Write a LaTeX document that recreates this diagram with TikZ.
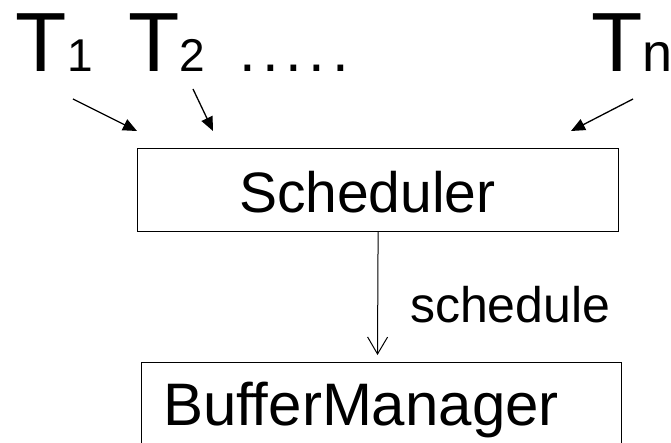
\documentclass[tikz,border=0pt]{standalone}
\usepackage{fontspec}
\setmainfont{Liberation Sans}
\usetikzlibrary{arrows.meta}
\begin{document}
\begin{tikzpicture}[x=1pt,y=-1pt,
  lbl/.style={anchor=base west, inner sep=0pt, outer sep=0pt},
  boxnode/.style={draw, line width=1.2pt, inner sep=0pt, anchor=north west},
  inarrow/.style={line width=1.3pt, -{Triangle[length=14pt,width=12pt]}},
  flowarrow/.style={line width=1pt, -{Straight Barb[length=17pt,width=20pt]}}
]
\useasboundingbox (0,0) rectangle (671,443);
% boxes
\node[boxnode, minimum width=481pt, minimum height=83pt] (schedbox) at (137,148) {};
\node[boxnode, minimum width=480pt, minimum height=110pt] (bufbox) at (141,362) {};
% box texts
\node[lbl, font=\fontsize{57}{57}\selectfont] (schedtxt) at (239,213) {Scheduler};
\node[lbl, font=\fontsize{60}{60}\selectfont] (buftxt) at (163,425) {BufferManager};
\node[lbl, font=\fontsize{50}{50}\selectfont] (schedlbl) at (410,322) {schedule};
% transactions
\node[lbl, font=\fontsize{84}{84}\selectfont] (t1) at (16,72) {T{\fontsize{46}{46}\selectfont 1}};
\node[lbl, font=\fontsize{84}{84}\selectfont] (t2) at (128,72) {T{\fontsize{46}{46}\selectfont 2}};
\node[lbl, font=\fontsize{60}{60}\selectfont] (dots) at (239,72) {.\hspace{6.6pt}.\hspace{6.6pt}.\hspace{6.6pt}.\hspace{6.6pt}.};
\node[lbl, font=\fontsize{84}{84}\selectfont] (tn) at (591,72) {T{\fontsize{54}{54}\selectfont n}};
% arrow end points
\coordinate (a1s) at (73,99);  \coordinate (a1e) at (137,131);
\coordinate (a2s) at (193,89); \coordinate (a2e) at (213,131);
\coordinate (ans) at (633,99); \coordinate (ane) at (571,131);
\coordinate (flowend) at (377.5,355);
\draw[inarrow] (a1s) -- (a1e);
\draw[inarrow] (a2s) -- (a2e);
\draw[inarrow] (ans) -- (ane);
\draw[flowarrow] (schedbox.south) -- (flowend);
\end{tikzpicture}
\end{document}
